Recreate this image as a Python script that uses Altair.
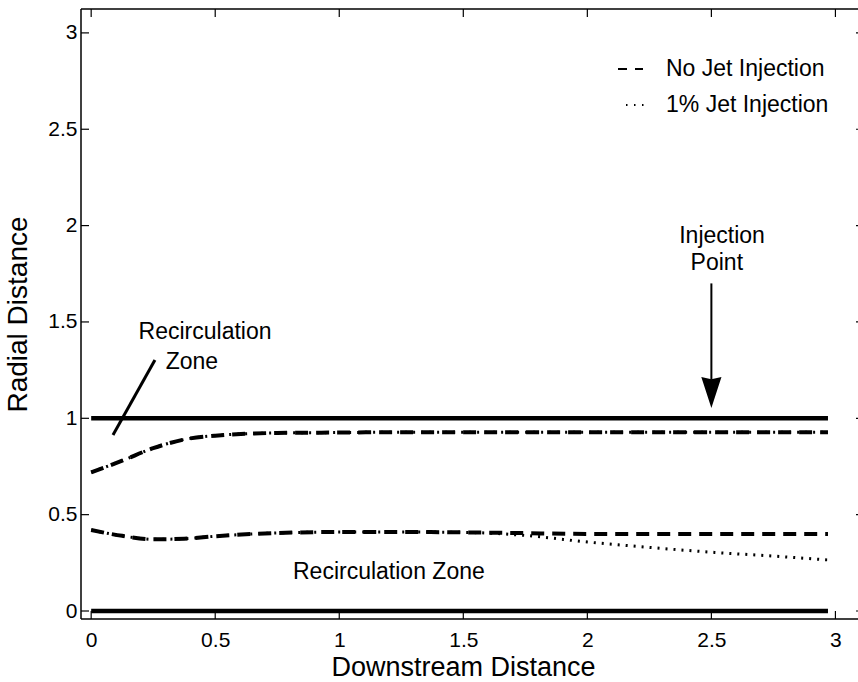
import altair as alt
import pandas as pd

# Downstream stations shared by every boundary curve
x_pts = [0.0, 0.125, 0.25, 0.375, 0.5, 0.75, 1.0, 1.25, 1.5, 1.75, 2.0, 2.25, 2.5, 2.75, 2.97]

# Outer edge of the recirculation region (same with and without injection)
outer_no_jet = [0.72, 0.78, 0.845, 0.89, 0.91, 0.924, 0.926, 0.928, 0.928, 0.928, 0.928, 0.928, 0.928, 0.928, 0.928]
outer_jet = [0.72, 0.78, 0.845, 0.89, 0.91, 0.924, 0.926, 0.928, 0.928, 0.928, 0.928, 0.928, 0.928, 0.928, 0.928]

# Inner edge of the recirculation region
inner_no_jet = [0.42, 0.39, 0.372, 0.375, 0.388, 0.405, 0.41, 0.41, 0.408, 0.404, 0.40, 0.40, 0.40, 0.40, 0.40]
inner_jet = [0.42, 0.39, 0.372, 0.375, 0.388, 0.405, 0.41, 0.41, 0.408, 0.392, 0.358, 0.33, 0.305, 0.285, 0.265]

# Centreline and outer wall
wall_x = [0.0, 2.97]
wall_levels = [0.0, 1.0]

tick_vals = [0, 0.5, 1, 1.5, 2, 2.5, 3]
legend_labels = ["No Jet Injection", "1% Jet Injection"]

# Annotation texts and their anchor points (data units)
ann_text = ["Recirculation", "Zone", "Injection", "Point", "Recirculation Zone"]
ann_x = [0.459, 0.406, 2.543, 2.522, 1.20]
ann_y = [1.448, 1.292, 1.946, 1.806, 0.202]

# Pointer line for the upper label and the injection arrow
pointer = {"x": 0.257, "y": 1.303, "x2": 0.088, "y2": 0.913}
arrow_x = 2.5
arrow_top, arrow_base, arrow_head_mid = 1.70, 1.20, 1.134

W, H = 777, 610
FONT = "Liberation Sans"

xscale = alt.Scale(domain=[-0.041, 3.091], nice=False, zero=False)
yscale = alt.Scale(domain=[-0.0415, 3.124], nice=False, zero=False)

x_axis = alt.Axis(
    values=tick_vals, format="~g", ticks=False, domain=False, grid=False,
    labelFontSize=21, labelPadding=10, labelColor="black",
    title="Downstream Distance", titleFontSize=27, titlePadding=4,
    titleFontWeight="normal", titleColor="black", titleX=382,
)
y_axis = alt.Axis(
    values=tick_vals, format="~g", ticks=False, domain=False, grid=False,
    labelFontSize=21, labelPadding=4, labelColor="black",
    title="Radial Distance", titleFontSize=28, titlePadding=15,
    titleFontWeight="normal", titleColor="black",
)


def X(field="x"):
    return alt.X(f"{field}:Q", scale=xscale, axis=x_axis)


def Y(field="y"):
    return alt.Y(f"{field}:Q", scale=yscale, axis=y_axis)


rows = []
for series, branch, vals in [
    ("No Jet Injection", "outer", outer_no_jet),
    ("No Jet Injection", "inner", inner_no_jet),
    ("1% Jet Injection", "outer", outer_jet),
    ("1% Jet Injection", "inner", inner_jet),
]:
    for xv, yv in zip(x_pts, vals):
        rows.append({"x": xv, "y": yv, "series": series, "branch": branch})
curves = pd.DataFrame(rows)

walls = pd.DataFrame(
    [{"x": xv, "y": lv, "level": str(lv)} for lv in wall_levels for xv in wall_x]
)
ticks = pd.DataFrame({"v": tick_vals})
ann = pd.DataFrame({"text": ann_text, "x": ann_x, "y": ann_y})
one = alt.Data(values=[{"k": 0}])

# walls (solid)
wall_layer = alt.Chart(walls).mark_line(color="black", strokeWidth=4.5).encode(
    x=X(), y=Y(), detail="level:N"
)

dashed = alt.Chart(curves).transform_filter(
    alt.datum.series == "No Jet Injection"
).mark_line(color="black", strokeWidth=4, strokeDash=[13, 8], interpolate="monotone").encode(
    x=X(), y=Y(), detail="branch:N"
)
dotted = alt.Chart(curves).transform_filter(
    alt.datum.series == "1% Jet Injection"
).mark_line(color="black", strokeWidth=3, strokeDash=[2, 6], interpolate="monotone").encode(
    x=X(), y=Y(), detail="branch:N"
)

# frame: left, top, bottom borders
frame_left = alt.Chart(one).mark_rule(color="black", strokeWidth=1.5).encode(
    x=alt.value(0), y=alt.value(0), y2=alt.value(H)
)
frame_top = alt.Chart(one).mark_rule(color="black", strokeWidth=1.5).encode(
    x=alt.value(0), x2=alt.value(W), y=alt.value(0)
)
frame_bottom = alt.Chart(one).mark_rule(color="black", strokeWidth=1.5).encode(
    x=alt.value(0), x2=alt.value(W), y=alt.value(H)
)

# inward tick marks on all sides
tick_bottom = alt.Chart(ticks).mark_rule(color="black", strokeWidth=1.2).encode(
    x=X("v"), y=alt.value(H), y2=alt.value(H - 8)
)
tick_top = alt.Chart(ticks).mark_rule(color="black", strokeWidth=1.2).encode(
    x=X("v"), y=alt.value(0), y2=alt.value(8)
)
tick_left = alt.Chart(ticks).mark_rule(color="black", strokeWidth=1.2).encode(
    y=Y("v"), x=alt.value(0), x2=alt.value(8)
)
tick_right = alt.Chart(ticks).mark_rule(color="black", strokeWidth=1.2).encode(
    y=Y("v"), x=alt.value(W - 2), x2=alt.value(W)
)

# annotations
ann_layer = alt.Chart(ann).mark_text(
    font=FONT, fontSize=23, color="black", align="center", baseline="middle"
).encode(x=X(), y=Y(), text="text:N")

pointer_layer = alt.Chart(alt.Data(values=[pointer])).mark_rule(
    color="black", strokeWidth=3
).encode(x=X(), y=Y(), x2="x2:Q", y2="y2:Q")

arrow_shaft = alt.Chart(
    alt.Data(values=[{"x": arrow_x, "y": arrow_top, "y2": arrow_base}])
).mark_rule(color="black", strokeWidth=2).encode(x=X(), y=Y(), y2="y2:Q")

arrow_head = alt.Chart(
    alt.Data(values=[{"x": arrow_x, "y": arrow_head_mid}])
).mark_point(
    shape="M-0.65,-1L0,-0.85L0.65,-1L0,1Z", size=961, filled=True,
    color="black", opacity=1, strokeWidth=0
).encode(x=X(), y=Y())

# legend
leg_dash = alt.Chart(one).mark_rule(color="black", strokeWidth=2, strokeDash=[9, 8]).encode(
    x=alt.value(537), x2=alt.value(562), y=alt.value(60)
)
leg_dot = alt.Chart(one).mark_rule(color="black", strokeWidth=2, strokeDash=[1.5, 6.5]).encode(
    x=alt.value(545), x2=alt.value(563), y=alt.value(96)
)
leg_text1 = alt.Chart(pd.DataFrame({"label": [legend_labels[0]]})).mark_text(
    font=FONT, fontSize=23, color="black", align="left", baseline="middle"
).encode(x=alt.value(585), y=alt.value(60), text="label:N")
leg_text2 = alt.Chart(pd.DataFrame({"label": [legend_labels[1]]})).mark_text(
    font=FONT, fontSize=23, color="black", align="left", baseline="middle"
).encode(x=alt.value(585), y=alt.value(96), text="label:N")

chart = alt.layer(
    wall_layer, dashed, dotted,
    frame_left, frame_top, frame_bottom,
    tick_bottom, tick_top, tick_left, tick_right,
    ann_layer, pointer_layer, arrow_shaft, arrow_head,
    leg_dash, leg_dot, leg_text1, leg_text2,
).properties(
    width=W, height=H,
    autosize=alt.AutoSizeParams(type="none"),
    padding={"left": 81, "top": 9, "right": 0, "bottom": 63},
    background="white",
).configure_view(
    stroke=None
).configure_axis(
    labelFont=FONT, titleFont=FONT
)

chart.save("out.html", embed_options={"renderer": "svg", "actions": False})
